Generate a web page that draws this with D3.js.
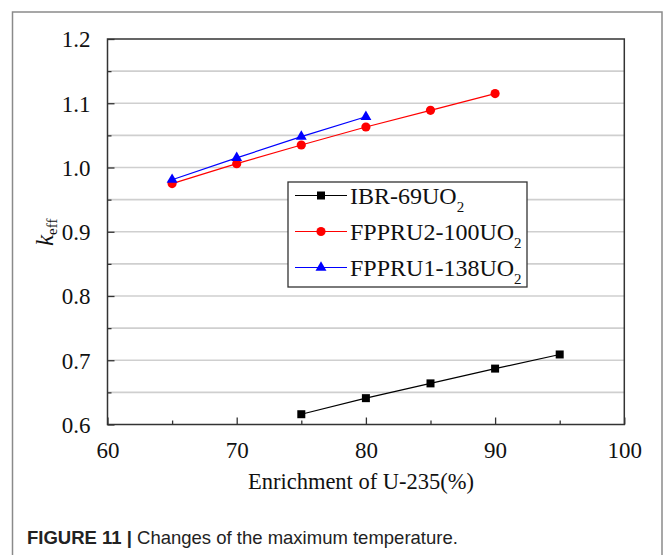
<!DOCTYPE html>
<html>
<head>
<meta charset="utf-8">
<script src="https://cdn.jsdelivr.net/npm/d3@7"></script>
<style>
  html, body { margin: 0; padding: 0; background: #fff; }
  svg { display: block; }
</style>
</head>
<body>
<svg id="chart" width="663" height="555"></svg>
<script>
// ---- data ----
const ibrX = [75, 80, 85, 90, 95];
const ibrY = [0.616, 0.641, 0.664, 0.687, 0.709];
const fppru2X = [65, 70, 75, 80, 85, 90];
const fppru2Y = [0.975, 1.006, 1.035, 1.063, 1.089, 1.115];
const fppru1X = [65, 70, 75, 80];
const fppru1Y = [0.981, 1.015, 1.048, 1.079];
const seriesNames = ["IBR-69UO", "FPPRU2-100UO", "FPPRU1-138UO"];
const seriesSub = ["2", "2", "2"];
const xTicks = [60, 70, 80, 90, 100];
const xMinorTicks = [65, 75, 85, 95];
const yTicks = [0.6, 0.7, 0.8, 0.9, 1.0, 1.1, 1.2];
const yMinorTicks = [0.65, 0.75, 0.85, 0.95, 1.05, 1.15];
const xTitle = "Enrichment of U-235(%)";
const caption = ["FIGURE 11 |", " Changes of the maximum temperature."];

const svg = d3.select("#chart");
const serif = "'Liberation Serif', 'Times New Roman', serif";
const sans = "'Liberation Sans', Arial, sans-serif";

// outer frame
svg.append("rect").attr("x", 12.5).attr("y", 12).attr("width", 649.5).attr("height", 600)
  .attr("fill", "none").attr("stroke", "#8a8a8a").attr("stroke-width", 1.5);

const L = 107.5, R = 624.3, T = 39, B = 424.5;
const x = d3.scaleLinear().domain([60, 100]).range([L, R]);
const y = d3.scaleLinear().domain([0.6, 1.2]).range([B, T]);

// gridlines
const gridVals = yTicks.concat(yMinorTicks).filter(v => v > 0.6 + 1e-9 && v < 1.2 - 1e-9);
svg.append("g").selectAll("line").data(gridVals).join("line")
  .attr("x1", L).attr("x2", R).attr("y1", d => y(d)).attr("y2", d => y(d))
  .attr("stroke", "#cfcfcf").attr("stroke-width", 1.6);

// frame
svg.append("rect").attr("x", L).attr("y", T).attr("width", R - L).attr("height", B - T)
  .attr("fill", "none").attr("stroke", "#333").attr("stroke-width", 1.5);

// axes
const xAxis = svg.append("g").attr("transform", `translate(0,${B})`)
  .call(d3.axisBottom(x).tickValues(xTicks).tickSize(-7).tickPadding(17).tickFormat(d3.format("d")));
const xAxisMinor = svg.append("g").attr("transform", `translate(0,${B})`)
  .call(d3.axisBottom(x).tickValues(xMinorTicks).tickSize(-4).tickFormat(""));
const yAxis = svg.append("g").attr("transform", `translate(${L},0)`)
  .call(d3.axisLeft(y).tickValues(yTicks).tickSize(-7).tickPadding(17).tickFormat(d3.format(".1f")));
const yAxisMinor = svg.append("g").attr("transform", `translate(${L},0)`)
  .call(d3.axisLeft(y).tickValues(yMinorTicks).tickSize(-4).tickFormat(""));
[xAxis, xAxisMinor, yAxis, yAxisMinor].forEach(g => {
  g.select(".domain").remove();
  g.selectAll(".tick line").attr("stroke", "#333").attr("stroke-width", 1.3);
  g.selectAll(".tick text").attr("font-family", serif).attr("font-size", 23).attr("fill", "#111");
});
xAxis.selectAll(".tick text").attr("dy", "0.71em");
yAxis.selectAll(".tick text").attr("dy", "0.34em");

// series
const series = [
  { xs: ibrX, ys: ibrY, color: "#000", shape: d3.symbolSquare, size: 64 },
  { xs: fppru2X, ys: fppru2Y, color: "#ff0000", shape: d3.symbolCircle, size: 66 },
  { xs: fppru1X, ys: fppru1Y, color: "#0000ff", shape: d3.symbolTriangle, size: 52 }
];
const line = d3.line().x(d => x(d[0])).y(d => y(d[1]));
series.forEach(s => {
  const pts = s.xs.map((v, i) => [v, s.ys[i]]);
  svg.append("path").datum(pts).attr("d", line).attr("fill", "none")
    .attr("stroke", s.color).attr("stroke-width", 1.2);
  svg.append("g").selectAll("path").data(pts).join("path")
    .attr("d", d3.symbol().type(s.shape).size(s.size))
    .attr("transform", d => `translate(${x(d[0])},${y(d[1])})`)
    .attr("fill", s.color);
});

// legend
const lg = svg.append("g");
lg.append("rect").attr("x", 288).attr("y", 182).attr("width", 239).attr("height", 105)
  .attr("fill", "#fff").attr("stroke", "#333").attr("stroke-width", 1.3);
const rowY = [195.5, 231.5, 267.5];
series.forEach((s, i) => {
  lg.append("line").attr("x1", 295).attr("x2", 347).attr("y1", rowY[i]).attr("y2", rowY[i])
    .attr("stroke", s.color).attr("stroke-width", 1.2);
  lg.append("path").attr("d", d3.symbol().type(s.shape).size(s.size))
    .attr("transform", `translate(321,${rowY[i]})`).attr("fill", s.color);
  const t = lg.append("text").attr("x", 350).attr("y", rowY[i] + 8.5)
    .attr("font-family", serif).attr("font-size", 24).attr("fill", "#111");
  t.append("tspan").text(seriesNames[i]);
  t.append("tspan").attr("font-size", 15).attr("dy", 8).text(seriesSub[i]);
});

// x title
svg.append("text").attr("x", 361).attr("y", 489).attr("text-anchor", "middle")
  .attr("font-family", serif).attr("font-size", 22.5).attr("fill", "#111").text(xTitle);

// y title k_eff
const yt = svg.append("text").attr("transform", "translate(53,246) rotate(-90)")
  .attr("font-family", serif).attr("font-size", 25).attr("fill", "#111");
yt.append("tspan").attr("font-style", "italic").text("k");
yt.append("tspan").attr("font-size", 15).attr("dy", 4).text("eff");

// caption
const cap = svg.append("text").attr("x", 27).attr("y", 544)
  .attr("font-family", sans).attr("font-size", 18.5).attr("fill", "#222");
cap.append("tspan").attr("font-weight", "bold").text(caption[0]);
cap.append("tspan").text(caption[1]);
</script>
</body>
</html>
